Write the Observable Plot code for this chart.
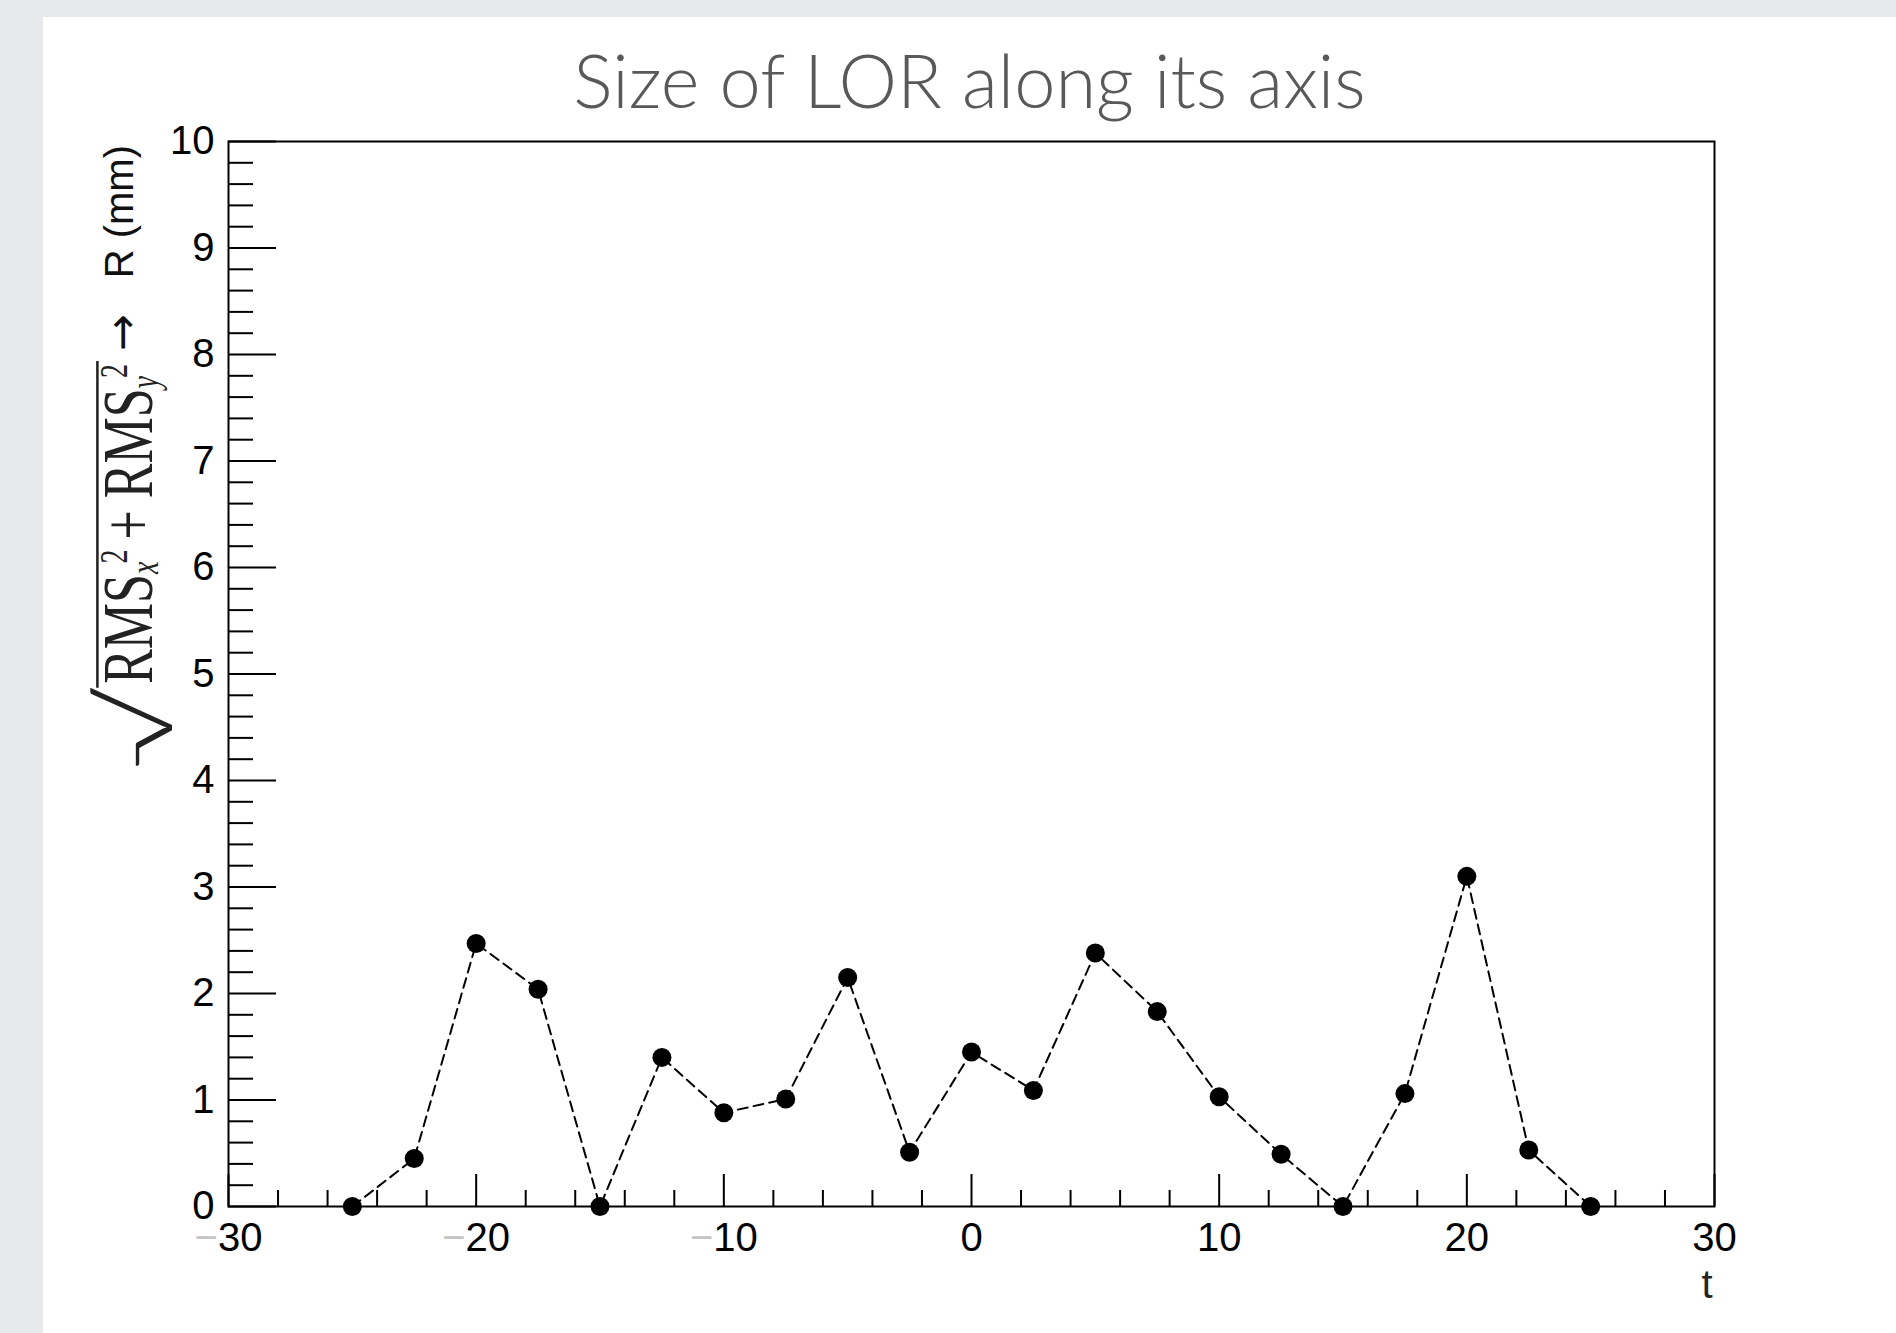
<!DOCTYPE html>
<html><head><meta charset="utf-8">
<script src="https://cdn.jsdelivr.net/npm/d3@7"></script>
<script src="https://cdn.jsdelivr.net/npm/@observablehq/plot@0.6"></script>
<style>
html,body{margin:0;padding:0;}
body{width:1896px;height:1333px;background:#e7e9ec;position:relative;overflow:hidden;}
#panel{position:absolute;left:43px;top:17px;width:1853px;height:1316px;background:#fff;}
#title{position:absolute;left:0;top:0;width:1853px;padding-top:26px;text-align:center;font-family:Lato,"Open Sans",sans-serif;font-weight:300;font-size:74px;color:#595959;line-height:1;}
#chart{position:absolute;left:0;top:103px;}
</style></head>
<body><div id="panel"><div id="title">Size of LOR along its axis</div><div id="chart"></div></div>
<script>
// ---- data ----
const tValues = [-25, -22.5, -20, -17.5, -15, -12.5, -10, -7.5, -5, -2.5, 0, 2.5, 5, 7.5, 10, 12.5, 15, 17.5, 20, 22.5, 25];
const rValues = [0, 0.45, 2.47, 2.04, 0, 1.40, 0.88, 1.01, 2.15, 0.51, 1.45, 1.09, 2.38, 1.83, 1.03, 0.49, 0, 1.06, 3.10, 0.53, 0];
const xMajorTicks = [-30, -20, -10, 0, 10, 20, 30];
const yMajorTicks = [0, 1, 2, 3, 4, 5, 6, 7, 8, 9, 10];
const xLabel = "t";

const data = tValues.map((t, i) => ({t, r: rValues[i]}));
const xMinorTicks = d3.range(-30, 30.001, 2).filter(v => !xMajorTicks.includes(v));
const yMinorTicks = d3.range(0, 50.5, 1).map(v => v / 5).filter(v => !yMajorTicks.includes(v));

const W = 1853, H = 1213, mL = 185, mR = 182, mT = 21, mB = 127;
const fw = W - mL - mR, fh = H - mT - mB;
const sans = "'Liberation Sans', Arial, Helvetica, sans-serif";
const serif = "'Liberation Serif', 'Times New Roman', 'DejaVu Serif', serif";

const chart = Plot.plot({
  width: W, height: H,
  marginLeft: mL, marginRight: mR, marginTop: mT, marginBottom: mB,
  x: {domain: [-30, 30], label: null},
  y: {domain: [0, 10], label: null},
  style: {background: "transparent", fontFamily: sans, color: "black", overflow: "visible"},
  marks: [
    Plot.tickX(xMinorTicks, {x: d => d, insetTop: fh - 16, stroke: "black", strokeWidth: 2}),
    Plot.tickX(xMajorTicks, {x: d => d, insetTop: fh - 32, stroke: "black", strokeWidth: 2}),
    Plot.tickY(yMinorTicks, {y: d => d, insetRight: fw - 25, stroke: "black", strokeWidth: 2}),
    Plot.tickY(yMajorTicks, {y: d => d, insetRight: fw - 48, stroke: "black", strokeWidth: 2}),
    Plot.axisX(xMajorTicks, {tickSize: 0, tickPadding: 16, fontSize: 40, label: null,
      tickFormat: d => d < 0 ? "\u2212" + Math.abs(d) : String(d)}),
    Plot.axisY(yMajorTicks, {tickSize: 0, tickPadding: 14, fontSize: 40, label: null, tickFormat: d => String(d)}),
    Plot.line(data, {x: "t", y: "r", stroke: "black", strokeWidth: 2, strokeDasharray: "10,6"}),
    Plot.dot(data, {x: "t", y: "r", r: 9.5, fill: "black"}),
    Plot.frame({stroke: "black", strokeWidth: 2}),
    Plot.text([xLabel], {text: d => d, frameAnchor: "bottom-right", textAnchor: "end", lineAnchor: "top", dy: 63, dx: -2, fontSize: 40, fill: "#222"})
  ]
});
document.getElementById("chart").appendChild(chart);

const svg = d3.select(chart);
// grey minus signs on x tick labels
svg.selectAll('g[aria-label="x-axis tick label"] text').each(function() {
  const s = this.textContent;
  if (s.startsWith("\u2212")) {
    const el = d3.select(this);
    el.text(null);
    el.append("tspan").attr("fill", "#c4c4c4").text("\u2212");
    el.append("tspan").text(s.slice(1));
  }
});

// ---- y-axis title: sqrt(RMS_x^2 + RMS_y^2) -> R (mm) ----
function addParts(textSel, parts) {
  parts.forEach(p => {
    const ts = textSel.append("tspan").attr("font-size", p.fs).text(p.t);
    if (p.dy) ts.attr("dy", p.dy);
    if (p.dx) ts.attr("dx", p.dx);
    if (p.it) ts.attr("font-style", "italic");
    if (p.font) ts.attr("font-family", p.font);
  });
}
// arrow + R (mm)
const gB = svg.append("g").attr("transform", "translate(90,25) rotate(-90)");
const TB = gB.append("text").attr("text-anchor", "end").attr("fill", "#111").attr("font-family", sans);
addParts(TB, [
  {t: "\u2192", fs: 44, dy: 4, font: "'DejaVu Sans', sans-serif"},
  {t: "R (mm)", fs: 40, dy: -4, dx: 36}
]);
// expression under the radical (glyphs drawn taller, as in the original)
const gA = svg.append("g").attr("transform", "translate(109,244) rotate(-90) scale(1,1.4)");
const TA = gA.append("text").attr("text-anchor", "end").attr("fill", "#222").attr("font-family", serif);
addParts(TA, [
  {t: "RMS", fs: 52},
  {t: "x", fs: 28, dy: 4, it: true},
  {t: "2", fs: 28, dy: -22, dx: -2},
  {t: "+", fs: 52, dy: 18, dx: 10},
  {t: "RMS", fs: 52, dx: 12},
  {t: "y", fs: 28, dy: 4, it: true},
  {t: "2", fs: 28, dy: -22, dx: -2}
]);
const uStart = TA.node().getStartPositionOfChar(0).x;
// vinculum
gA.append("line").attr("x1", uStart - 4).attr("x2", 3).attr("y1", -39).attr("y2", -39)
  .attr("stroke", "#222").attr("stroke-width", 1.8);
// radical sign (light weight, stretched along the text direction)
const gC = svg.append("g").attr("transform", `translate(129,${244 - uStart + 2}) rotate(-90) scale(1.4,1)`);
gC.append("text").attr("text-anchor", "end").attr("fill", "#222")
  .attr("font-family", "Lato, 'DejaVu Sans', sans-serif").attr("font-weight", 300)
  .attr("font-size", 95).text("\u221A");
</script></body></html>
